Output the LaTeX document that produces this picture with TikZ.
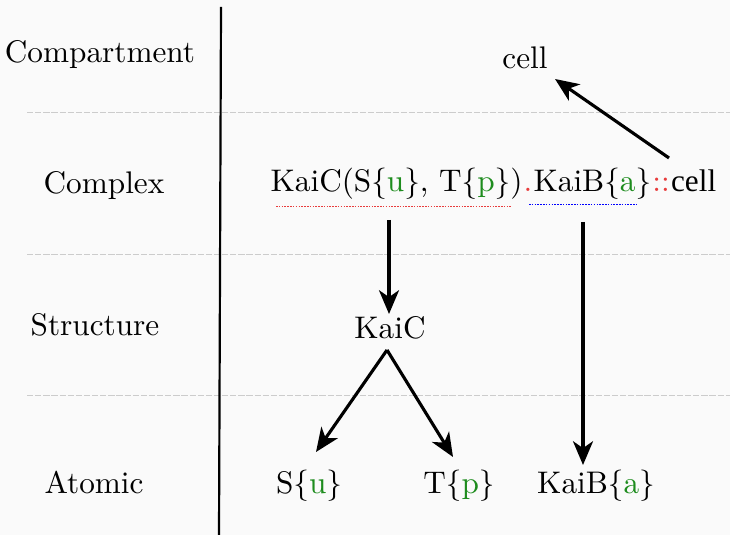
\documentclass[tikz,border=0pt]{standalone}
\usepackage{fontspec}
\usetikzlibrary{arrows.meta}
\newfontfamily\compfont{Liberation Serif}
\definecolor{bg}{HTML}{FAFAFA}
\definecolor{statecol}{HTML}{1E8C1E}
\definecolor{sepcol}{HTML}{E83C3C}
\definecolor{gridcol}{HTML}{CCCCCC}
\newcommand{\st}[1]{\textcolor{statecol}{#1}}
\tikzset{
  lvl/.style={inner sep=0pt},
  part/.style={inner sep=0pt, anchor=base west},
  conn/.style={line width=1pt, -{Stealth[length=7.6pt, width=6.4pt, inset=2.2pt]}},
  sepline/.style={gridcol, line width=0.3pt, dash pattern=on 2pt off 0.6pt},
  uline/.style={line width=0.3pt, dash pattern=on 0.5pt off 0.4pt},
}
\begin{document}
\begin{tikzpicture}[x=0.32pt, y=-0.32pt]
  \fill[bg] (0,0) rectangle (730,535);
  \useasboundingbox (0,0) rectangle (730,535);

  % level separators
  \draw[sepline] (27,112) -- (730,112);
  \draw[sepline] (27,254) -- (730,254);
  \draw[sepline] (27,395) -- (730,395);

  % vertical divider
  \coordinate (vtop) at (221,7);
  \coordinate (vbot) at (219,535);
  \draw[line width=0.7pt] (vtop) -- (vbot);

  % level labels
  \node[lvl] (lcomp) at (100,55) {Compartment};
  \node[lvl] (lcplx) at (104,186) {Complex};
  \node[lvl] (lstr)  at (95,325) {Structure};
  \node[lvl] (latom) at (94,482) {Atomic};

  % compartment level
  \node[lvl] (cell) at (525,58) {cell};

  % complex level
  \node[part] (kaic) at (270,192) {KaiC(S\{\st{u}\}, T\{\st{p}\})};
  \node[part] (dot) at (kaic.base east) {\textcolor{sepcol}{.}};
  \node[part] (kaib) at (dot.base east) {KaiB\{\st{a}\}};
  \node[part] (cc) at (kaib.base east) {\textcolor{sepcol}{::}};
  \node[part] (ccell) at (cc.base east) {\compfont cell};
  \draw[sepcol, uline] (276,206) -- (511,206);
  \draw[blue, uline] (529,204) -- (637,204);

  % structure level
  \node[lvl] (kaics) at (390,328) {KaiC};

  % atomic level
  \node[lvl] (su) at (309,486) {S\{\st{u}\}};
  \node[lvl] (tp) at (459,486) {T\{\st{p}\}};
  \node[lvl] (kaiba) at (596,486) {KaiB\{\st{a}\}};

  % connector end points
  \coordinate (cellfrom) at (669,158);
  \coordinate (cellto) at (555,79);
  \coordinate (kcfrom) at (389,220);
  \coordinate (kcto) at (389,314);
  \coordinate (split) at (387,350);
  \coordinate (suto) at (316,452);
  \coordinate (tpto) at (453,457);
  \coordinate (kbfrom) at (583,222);
  \coordinate (kbto) at (583,465);

  % connectors
  \draw[conn] (cellfrom) -- (cellto);
  \draw[conn] (kcfrom) -- (kcto);
  \draw[conn] (split) -- (suto);
  \draw[conn] (split) -- (tpto);
  \draw[conn] (kbfrom) -- (kbto);
\end{tikzpicture}
\end{document}
